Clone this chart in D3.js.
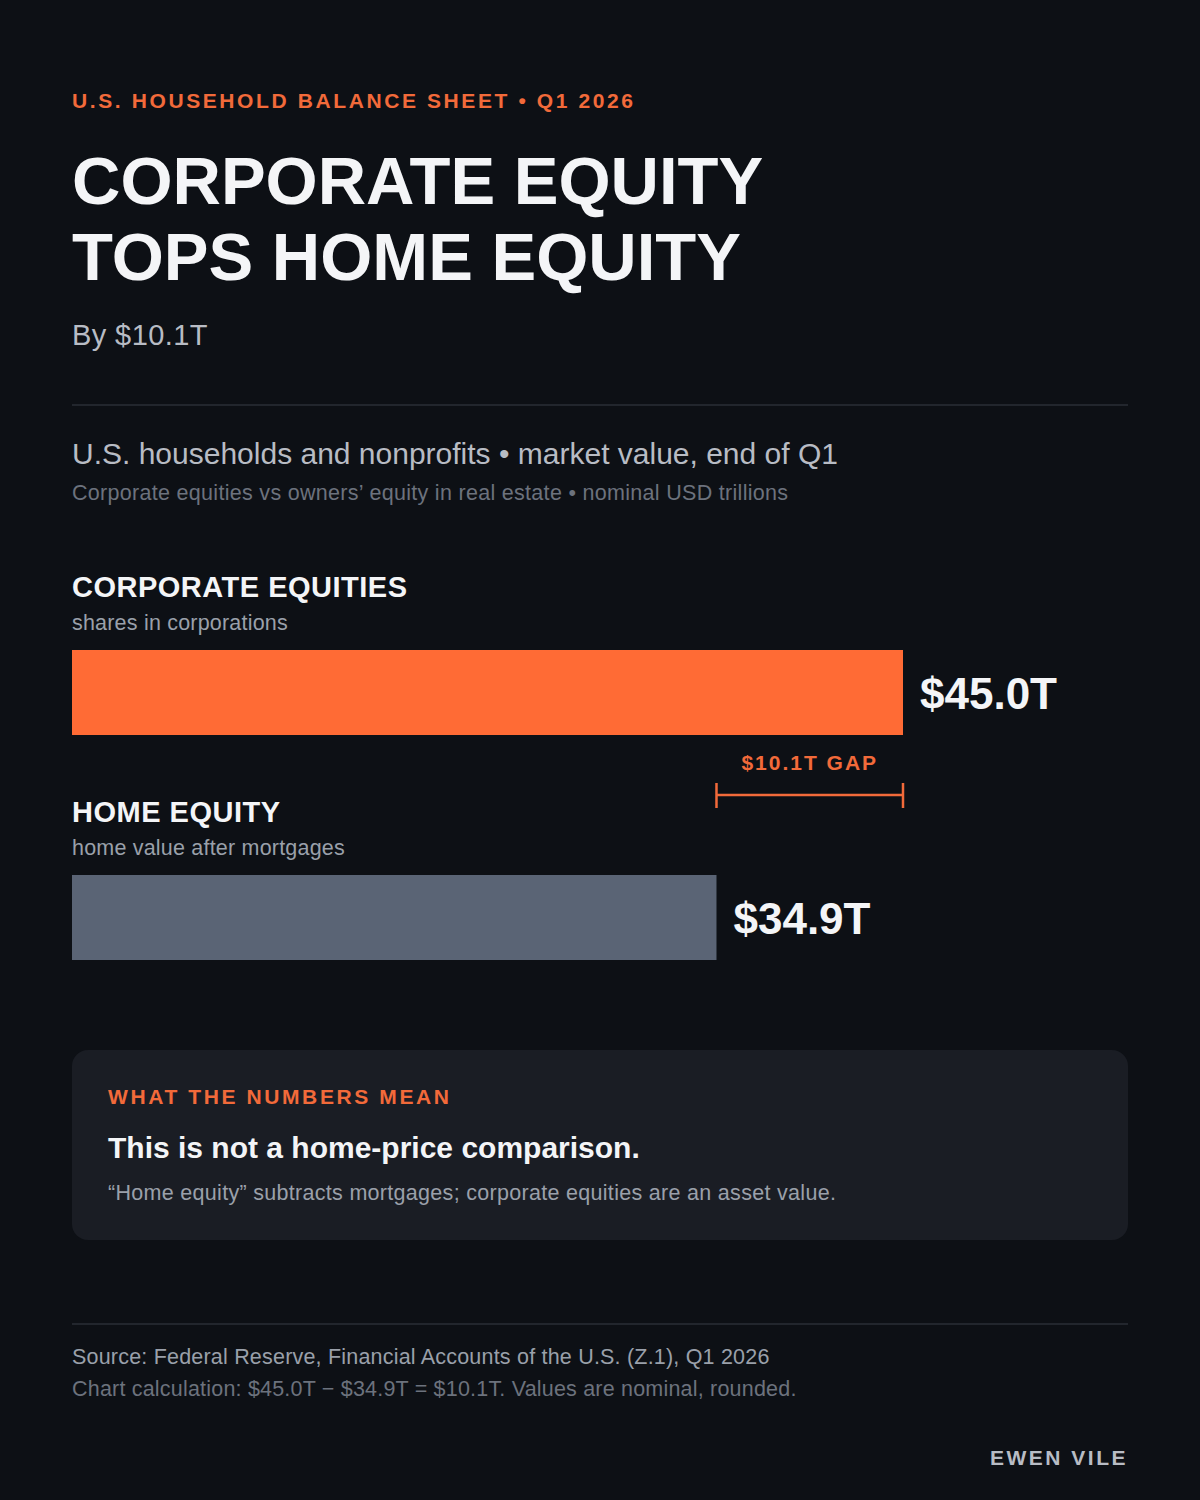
<!DOCTYPE html>
<html><head><meta charset="utf-8">
<script src="https://cdn.jsdelivr.net/npm/d3@7"></script>
<style>body{margin:0;background:#0d1015;} text{font-family:"Liberation Sans",Arial,sans-serif;}</style>
</head><body>
<div id="chart"></div>
<script>
var categories = ['CORPORATE EQUITIES', 'HOME EQUITY'];
var subtitles = ['shares in corporations', 'home value after mortgages'];
var values = [45.0, 34.9];
var valueLabels = ['$45.0T', '$34.9T'];
var colors = ['#ff6b35', '#5a6475'];
var gapLabel = '$10.1T GAP';

var w = 1200, h = 1500;
var orange = '#f26a3a';
var svg = d3.select('#chart').append('svg').attr('width', w).attr('height', h);
svg.append('rect').attr('width', w).attr('height', h).attr('fill', '#0d1015');

function txt(x, y, s, size, fill, weight, ls, anchor) {
    return svg.append('text').attr('x', x).attr('y', y).text(s)
        .attr('font-size', size).attr('fill', fill)
        .attr('font-weight', weight || 'normal')
        .attr('letter-spacing', ls || 0)
        .attr('text-anchor', anchor || 'start');
}

// header
txt(72, 108, 'U.S. HOUSEHOLD BALANCE SHEET • Q1 2026', 21, orange, 'bold', 2.6);
txt(72, 204, 'CORPORATE EQUITY', 67, '#f4f5f7', 'bold', 0);
txt(72, 280, 'TOPS HOME EQUITY', 67, '#f4f5f7', 'bold', 0);
txt(72, 345, 'By $10.1T', 29, '#b8bcc4', 'normal', 0.4);
svg.append('line').attr('x1', 72).attr('x2', 1128).attr('y1', 405).attr('y2', 405).attr('stroke', '#2a2e36').attr('stroke-width', 1.5);
txt(72, 464, 'U.S. households and nonprofits • market value, end of Q1', 30, '#b8bcc4');
txt(72, 500, 'Corporate equities vs owners’ equity in real estate • nominal USD trillions', 21.5, '#6c727d', 'normal', 0.3);

// bars
var x = d3.scaleLinear().domain([0, 45]).range([72, 903]);
var barTop = [650, 875], barH = 85;

categories.forEach(function(c, i) {
    txt(72, barTop[i] - 53, c, 29, '#f4f5f7', 'bold', 0.5);
    txt(72, barTop[i] - 20, subtitles[i], 21.5, '#9aa0aa', 'normal', 0.2);
});

svg.selectAll('rect.bar').data(values).enter().append('rect')
    .attr('class', 'bar')
    .attr('x', x(0))
    .attr('y', function(d, i) { return barTop[i]; })
    .attr('width', function(d) { return x(d) - x(0); })
    .attr('height', barH)
    .attr('fill', function(d, i) { return colors[i]; });

svg.selectAll('text.val').data(values).enter().append('text')
    .attr('class', 'val')
    .attr('x', function(d) { return x(d) + 17; })
    .attr('y', function(d, i) { return barTop[i] + barH / 2 + 16; })
    .attr('font-size', 44).attr('font-weight', 'bold').attr('fill', '#f4f5f7')
    .text(function(d, i) { return valueLabels[i]; });

// gap bracket
var gx1 = x(values[1]), gx2 = x(values[0]), gy = 795;
var br = svg.append('g').attr('stroke', orange).attr('stroke-width', 2.5);
br.append('line').attr('x1', gx1).attr('x2', gx2).attr('y1', gy).attr('y2', gy);
br.append('line').attr('x1', gx1).attr('x2', gx1).attr('y1', gy - 12).attr('y2', gy + 13);
br.append('line').attr('x1', gx2).attr('x2', gx2).attr('y1', gy - 12).attr('y2', gy + 13);
txt((gx1 + gx2) / 2, 770, gapLabel, 21, orange, 'bold', 2, 'middle');

// note panel
svg.append('rect').attr('x', 72).attr('y', 1050).attr('width', 1056).attr('height', 190).attr('rx', 16).attr('fill', '#1a1d24');
txt(108, 1104, 'WHAT THE NUMBERS MEAN', 21, orange, 'bold', 2.6);
txt(108, 1158, 'This is not a home-price comparison.', 30, '#f4f5f7', 'bold');
txt(108, 1200, '“Home equity” subtracts mortgages; corporate equities are an asset value.', 21.5, '#9aa0aa', 'normal', 0.3);

// footer
svg.append('line').attr('x1', 72).attr('x2', 1128).attr('y1', 1324).attr('y2', 1324).attr('stroke', '#2a2e36').attr('stroke-width', 1.5);
txt(72, 1364, 'Source: Federal Reserve, Financial Accounts of the U.S. (Z.1), Q1 2026', 21.5, '#9aa0aa', 'normal', 0.2);
txt(72, 1396, 'Chart calculation: $45.0T − $34.9T = $10.1T. Values are nominal, rounded.', 21.5, '#6c727d', 'normal', 0.2);
txt(1128, 1465, 'EWEN VILE', 21, '#b8bcc4', 'bold', 2.5, 'end');
</script>
</body></html>
